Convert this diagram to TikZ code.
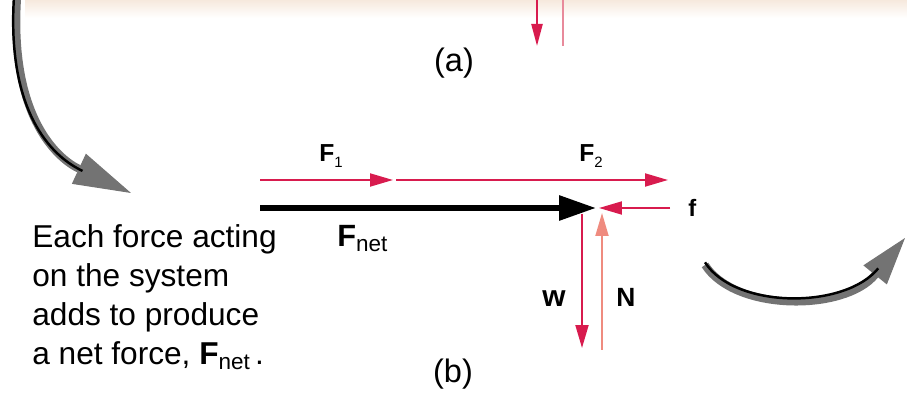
\documentclass[tikz,border=0pt]{standalone}
\usepackage{fontspec}
\setmainfont{Liberation Sans}
\usepackage{graphicx}
\usetikzlibrary{arrows.meta}
\definecolor{frc}{HTML}{D81B4E}
\definecolor{nrm}{HTML}{EF8B7F}
\definecolor{pale}{HTML}{E88A9B}
\definecolor{band}{HTML}{F6E9DD}
\newcommand{\fs}[2]{\fontsize{#1}{#2}\selectfont}
\newcommand{\flab}[4]{{\fs{#1}{#1}\bfseries F}\raisebox{-#4}{\fs{#3}{#3}\mdseries #2}}

\begin{document}
\begin{tikzpicture}[x=0.02cm, y=-0.02cm,
  lbl/.style={inner sep=0pt, anchor=base west, font=\bfseries},
  fv/.style={draw=frc, line width=1.1pt, -{Triangle[length=4.6mm, width=2.6mm]}},
  nv/.style={fv, draw=nrm},
  net/.style={line width=3.4pt, -{Triangle[length=7.4mm, width=4.8mm]}},
  crv/.style={draw=black!55, line width=4.5pt,
              -{Triangle[length=11.5mm, width=6.6mm, fill=black!55, line width=0.6pt]}},
  crv2/.style={crv, -{Triangle[length=9.5mm, width=6mm, fill=black!55, line width=0.6pt]}},
  edge/.style={draw=black, line width=1.4pt, shorten >=10mm}]
\useasboundingbox (0,0) rectangle (907,398);
\shade[top color=band, bottom color=white] (25,0) rectangle (907,18);
\foreach \n/\p in {t0/{537,0}, t1/{537,46}, p0/{563,0}, p1/{563,46},
   a0/{260,180}, a1/{393,180}, a2/{396,180}, a3/{668,180},
   b0/{260,208}, b1/{596,208}, c0/{670,208}, c1/{599,208},
   w0/{582,214}, w1/{582,348}, n0/{602,350}, n1/{602,213},
   l0/{17,0}, l1/{131,193}, r0/{705,265}, r1/{905,238}}
  \coordinate (\n) at (\p);
\node (pa) at (454,72) [anchor=base, inner sep=0pt, font=\fs{18.5}{20}] {(a)};
\node (pb) at (453,383) [anchor=base, inner sep=0pt, font=\fs{18.5}{20}] {(b)};
\node[lbl] (f1) at (319,162) {\flab{14}{1}{8.5}{3pt}};
\node[lbl] (f2) at (579,162) {\flab{14}{2}{8.5}{3pt}};
\node[lbl] (fn) at (337,247) {\flab{17.5}{net}{12.8}{2.8pt}};
\node[lbl, font=\fs{13.5}{14}\bfseries] (fr) at (688,217) {f};
\node[lbl, font=\fs{17}{18}\bfseries] (wl) at (542,307) {w};
\node[lbl, font=\fs{15}{16}\bfseries] (nl) at (616,307) {N};
\node (txt) at (32,224) [anchor=north west, inner sep=0pt, align=left, font=\fs{18}{22.2}]
  {Each force acting\\on the system\\adds to produce\\a net force, \flab{18}{net}{12.8}{2.8pt}\,.};
\draw[frc, line width=1.3pt, -{Triangle[length=4.4mm, width=2.2mm]}] (t0) -- (t1);
\draw[pale, line width=1pt] (p0) -- (p1);
\foreach \x/\y in {a0/a1, a2/a3, c0/c1, w0/w1}
  \draw[fv] (\x) -- (\y);
\draw[nv] (n0) -- (n1);
\draw[net] (b0) -- (b1);
\draw[crv] (l0) .. controls (10,120) and (60,160) .. (l1);
\draw[edge, transform canvas={shift={(-1.8pt,0.6pt)}}] (l0) .. controls (10,120) and (60,160) .. (l1);
\draw[crv2] (r0) .. controls (735,312) and (845,312) .. (r1);
\draw[edge, shorten >=8.5mm, transform canvas={shift={(0pt,1.5pt)}}] (r0) .. controls (735,312) and (845,312) .. (r1);
\end{tikzpicture}
\end{document}
